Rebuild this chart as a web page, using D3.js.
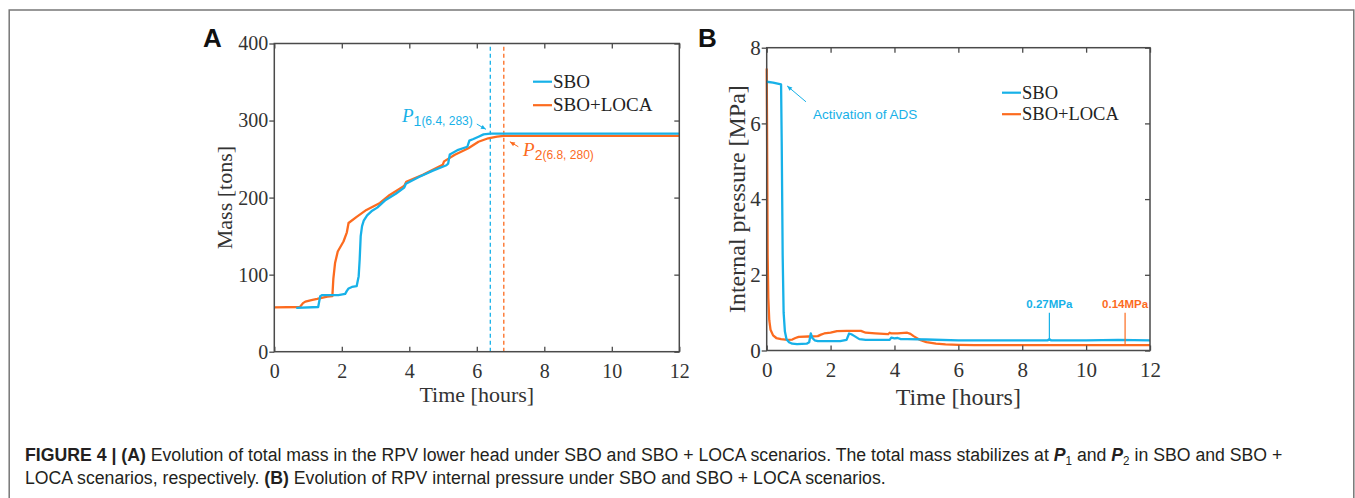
<!DOCTYPE html>
<html>
<head>
<meta charset="utf-8">
<script src="https://cdn.jsdelivr.net/npm/d3@7"></script>
<style>
  html, body { margin: 0; padding: 0; background: #fff; }
  svg { display: block; }
</style>
</head>
<body>
<svg id="fig" width="1355" height="498"></svg>
<script>
// ---------------- data ----------------
// (A) total mass in the RPV lower head [tons] vs time [hours]
const sboMassTime  = [0.65, 1.3, 1.33, 1.36, 1.42, 1.9, 2.1, 2.15, 2.2, 2.3, 2.44, 2.5, 2.53, 2.56, 2.6, 2.65, 2.75, 2.9, 3.05, 3.3, 3.6, 3.85, 3.9, 4.3, 4.7, 5.1, 5.15, 5.2, 5.45, 5.72, 5.78, 5.9, 6.05, 6.2, 6.4, 12];
const sboMass      = [57, 58, 65, 72, 73.5, 73.5, 75, 79, 82, 84, 85, 98, 120, 150, 163, 170, 177, 183, 187, 197, 205, 213, 218, 227, 235, 242, 244, 256, 262, 266, 274, 276, 279, 282, 283, 283];
const locaMassTime = [0, 0.76, 0.85, 0.92, 1.1, 1.27, 1.57, 1.72, 1.75, 1.8, 1.88, 2.05, 2.15, 2.2, 2.44, 2.73, 3.13, 3.42, 3.81, 3.86, 3.91, 4.4, 4.99, 5.03, 5.35, 5.75, 6.05, 6.34, 6.6, 6.8, 12];
const locaMass     = [57.5, 58, 63, 65, 67, 68.5, 71.5, 72, 95, 115, 130, 143, 155, 167, 175, 184, 193, 203.5, 214, 216, 220.5, 229.5, 242.5, 247, 255.5, 264, 272.5, 277, 279, 280, 280];

// (B) RPV internal pressure [MPa] vs time [hours]
const sboPressTime  = [0, 0.2, 0.45, 0.47, 0.5, 0.53, 0.57, 0.62, 0.7, 0.8, 0.95, 1.25, 1.33, 1.38, 1.43, 1.5, 1.6, 2.3, 2.5, 2.58, 2.65, 2.75, 2.9, 3.1, 3.85, 3.9, 4.0, 4.1, 4.2, 4.4, 5, 6, 8, 8.8, 8.85, 8.9, 10, 11, 12];
const sboPress      = [7.1, 7.08, 7.03, 5.5, 2.5, 1.0, 0.5, 0.3, 0.22, 0.18, 0.17, 0.18, 0.22, 0.45, 0.33, 0.27, 0.25, 0.25, 0.28, 0.45, 0.43, 0.38, 0.30, 0.28, 0.28, 0.34, 0.32, 0.33, 0.30, 0.30, 0.29, 0.27, 0.27, 0.27, 0.30, 0.27, 0.27, 0.28, 0.27];
const locaPressTime = [0, 0.01, 0.03, 0.05, 0.08, 0.12, 0.2, 0.3, 0.45, 0.65, 0.8, 0.9, 1.0, 1.3, 1.6, 1.7, 1.8, 2.0, 2.2, 2.5, 2.95, 3.1, 3.4, 3.8, 3.85, 3.9, 4.1, 4.4, 4.5, 4.6, 4.8, 5.0, 5.3, 5.6, 6.0, 6.5, 8, 10, 12];
const locaPress     = [7.45, 6.0, 2.5, 1.4, 0.8, 0.55, 0.4, 0.33, 0.3, 0.28, 0.29, 0.33, 0.36, 0.37, 0.38, 0.42, 0.45, 0.47, 0.51, 0.52, 0.52, 0.47, 0.45, 0.43, 0.47, 0.45, 0.45, 0.47, 0.44, 0.38, 0.28, 0.22, 0.18, 0.16, 0.15, 0.14, 0.14, 0.14, 0.14];

// axes ticks and labels
const timeTicks  = [0, 2, 4, 6, 8, 10, 12];
const massTicks  = [0, 100, 200, 300, 400];
const pressTicks = [0, 2, 4, 6, 8];
const seriesNames = ["SBO", "SBO+LOCA"];

// annotated points
const stableTimes  = [6.4, 6.8];      // P1, P2 time [hours]
const stableMasses = [283, 280];      // P1, P2 mass [tons]
const finalPressTimes = [8.85, 11.22];
const finalPressures  = [0.27, 0.14]; // [MPa]

// ---------------- styles ----------------
const C_SBO  = "#17b1e8";
const C_LOCA = "#fc6b1f";
const SERIF = "'Liberation Serif', 'Times New Roman', serif";
const SANS  = "'Liberation Sans', Arial, sans-serif";
const AXIS_C = "#4a4a4a";
const TEXT_C = "#333";

const svg = d3.select("#fig");

// figure frame
svg.append("path")
  .attr("d", "M9.2,498V10H1353.8V498")
  .attr("fill", "none").attr("stroke", "#777").attr("stroke-width", 1.5);

// ---------------- helpers ----------------
function drawFrameAxes(g, x, y, xTicks, yTicks, fs) {
  const [x0, x1] = x.range();
  const [y0, y1] = y.range();
  // bottom (labelled, inward ticks)
  const bx = g.append("g").attr("transform", `translate(0,${y0})`)
    .call(d3.axisBottom(x).tickValues(xTicks).tickSizeInner(-5).tickSizeOuter(0).tickPadding(12).tickFormat(d3.format("d")));
  // top (inward ticks)
  const tx = g.append("g").attr("transform", `translate(0,${y1})`)
    .call(d3.axisTop(x).tickValues(xTicks).tickSizeInner(-5).tickSizeOuter(0).tickFormat(""));
  // left (labelled)
  const ly = g.append("g").attr("transform", `translate(${x0},0)`)
    .call(d3.axisLeft(y).tickValues(yTicks).tickSizeInner(5).tickSizeOuter(0).tickPadding(1).tickFormat(d3.format("d")));
  // right (inward ticks)
  const ry = g.append("g").attr("transform", `translate(${x1},0)`)
    .call(d3.axisRight(y).tickValues(yTicks).tickSizeInner(-5).tickSizeOuter(0).tickFormat(""));
  [bx, tx, ly, ry].forEach(a => {
    a.select(".domain").remove();
    a.selectAll(".tick line").attr("stroke", AXIS_C).attr("stroke-width", 1.3);
    a.selectAll(".tick text").attr("fill", TEXT_C);
    a.attr("font-family", SERIF).attr("font-size", fs);
  });
  g.append("rect")
    .attr("x", x0).attr("y", y1)
    .attr("width", x1 - x0).attr("height", y0 - y1)
    .attr("fill", "none").attr("stroke", AXIS_C).attr("stroke-width", 1.5);
}

function arrow(g, xA, yA, xB, yB, color) {
  // line from A to B with a small filled head at B
  g.append("line").attr("x1", xA).attr("y1", yA).attr("x2", xB).attr("y2", yB)
    .attr("stroke", color).attr("stroke-width", 1);
  const ang = Math.atan2(yB - yA, xB - xA);
  const L = 5, W = 2.2;
  const p1 = [xB - L * Math.cos(ang) + W * Math.sin(ang), yB - L * Math.sin(ang) - W * Math.cos(ang)];
  const p2 = [xB - L * Math.cos(ang) - W * Math.sin(ang), yB - L * Math.sin(ang) + W * Math.cos(ang)];
  g.append("path").attr("d", `M${xB},${yB}L${p1[0]},${p1[1]}L${p2[0]},${p2[1]}Z`).attr("fill", color);
}

function legend(g, x, y, gap, fs) {
  [C_SBO, C_LOCA].forEach((c, i) => {
    const yy = y + i * gap;
    g.append("line").attr("x1", x).attr("x2", x + 19).attr("y1", yy).attr("y2", yy)
      .attr("stroke", c).attr("stroke-width", 2.2);
    g.append("text").attr("x", x + 20).attr("y", yy).attr("dy", "0.33em")
      .attr("font-family", SERIF).attr("font-size", fs).attr("fill", "#222")
      .text(seriesNames[i]);
  });
}

// ---------------- panel A ----------------
const gA = svg.append("g");
const xA = d3.scaleLinear().domain([0, 12]).range([274.3, 679.3]);
const yA = d3.scaleLinear().domain([0, 400]).range([351.7, 43.5]);

const lineA = d3.line().x(d => xA(d[0])).y(d => yA(d[1]));

// stabilisation markers (dashed verticals)
[C_SBO, C_LOCA].forEach((c, i) => {
  gA.append("line")
    .attr("x1", xA(stableTimes[i])).attr("x2", xA(stableTimes[i]))
    .attr("y1", yA(0)).attr("y2", yA(400))
    .attr("stroke", c).attr("stroke-width", 1.3).attr("stroke-dasharray", "4,3");
});

gA.append("path").datum(locaMassTime.map((t, i) => [t, locaMass[i]]))
  .attr("d", lineA).attr("fill", "none").attr("stroke", C_LOCA).attr("stroke-width", 2.3).attr("stroke-linejoin", "round");
gA.append("path").datum(sboMassTime.map((t, i) => [t, sboMass[i]]))
  .attr("d", lineA).attr("fill", "none").attr("stroke", C_SBO).attr("stroke-width", 2.3).attr("stroke-linejoin", "round");

drawFrameAxes(gA, xA, yA, timeTicks, massTicks, 20);

gA.append("text").attr("x", xA(6)).attr("y", 402).attr("text-anchor", "middle")
  .attr("font-family", SERIF).attr("font-size", 22).attr("fill", TEXT_C).text("Time [hours]");
gA.append("text").attr("transform", `translate(232,${yA(200)}) rotate(-90)`).attr("text-anchor", "middle")
  .attr("font-family", SERIF).attr("font-size", 22).attr("fill", TEXT_C).text("Mass [tons]");
gA.append("text").attr("x", 203).attr("y", 47).attr("font-family", SANS).attr("font-weight", "bold")
  .attr("font-size", 26).attr("fill", "#111").text("A");

legend(gA, 533, 81.7, 23.5, 19);

// P1 / P2 labels
function pLabel(g, x, y, anchor, idx, color) {
  const t = g.append("text").attr("x", x).attr("y", y).attr("text-anchor", anchor).attr("fill", color);
  t.append("tspan").attr("font-family", SERIF).attr("font-style", "italic").attr("font-size", 19).text("P");
  t.append("tspan").attr("font-family", SANS).attr("font-size", 14).attr("dy", 4).text(String(idx + 1));
  t.append("tspan").attr("font-family", SANS).attr("font-size", 12).attr("dy", -1)
    .text(`(${stableTimes[idx]}, ${stableMasses[idx]})`);
}
pLabel(gA, xA(5.88), yA(298), "end", 0, C_SBO);
arrow(gA, xA(6.0), yA(295.5), xA(6.27), yA(288.6), C_SBO);
pLabel(gA, xA(7.37), yA(254), "start", 1, C_LOCA);
arrow(gA, xA(7.23), yA(266), xA(6.98), yA(272.5), C_LOCA);

// ---------------- panel B ----------------
const gB = svg.append("g");
const xB = d3.scaleLinear().domain([0, 12]).range([766.7, 1150]);
const yB = d3.scaleLinear().domain([0, 8]).range([350.5, 47.7]);
const lineB = d3.line().x(d => xB(d[0])).y(d => yB(d[1]));

gB.append("path").datum(locaPressTime.map((t, i) => [t, locaPress[i]]))
  .attr("d", lineB).attr("fill", "none").attr("stroke", C_LOCA).attr("stroke-width", 2.3).attr("stroke-linejoin", "round");
gB.append("path").datum(sboPressTime.map((t, i) => [t, sboPress[i]]))
  .attr("d", lineB).attr("fill", "none").attr("stroke", C_SBO).attr("stroke-width", 2.3).attr("stroke-linejoin", "round");

drawFrameAxes(gB, xB, yB, timeTicks, pressTicks, 21);

gB.append("text").attr("x", xB(6)).attr("y", 405).attr("text-anchor", "middle")
  .attr("font-family", SERIF).attr("font-size", 24).attr("fill", TEXT_C).text("Time [hours]");
gB.append("text").attr("transform", `translate(745,${yB(4)}) rotate(-90)`).attr("text-anchor", "middle")
  .attr("font-family", SERIF).attr("font-size", 24).attr("fill", TEXT_C).text("Internal pressure [MPa]");
gB.append("text").attr("x", 698).attr("y", 47).attr("font-family", SANS).attr("font-weight", "bold")
  .attr("font-size", 26).attr("fill", "#111").text("B");

legend(gB, 1002, 92.7, 21.5, 18.5);

// ADS activation note
gB.append("text").attr("x", xB(1.45)).attr("y", yB(6.11))
  .attr("font-family", SANS).attr("font-size", 13.5).attr("fill", C_SBO).text("Activation of ADS");
arrow(gB, xB(1.23), yB(6.57), xB(0.64), yB(6.99), C_SBO);

// final pressure call-outs
[C_SBO, C_LOCA].forEach((c, i) => {
  const t = finalPressTimes[i], p = finalPressures[i];
  gB.append("line").attr("x1", xB(t)).attr("x2", xB(t)).attr("y1", yB(p)).attr("y2", yB(1.0))
    .attr("stroke", c).attr("stroke-width", 1.2);
  gB.append("text").attr("x", xB(t)).attr("y", yB(1.12)).attr("text-anchor", "middle")
    .attr("font-family", SANS).attr("font-size", 11.5).attr("font-weight", 600).attr("fill", c)
    .text(`${p}MPa`);
});

// ---------------- caption ----------------
const captionLines = [
  [ { t: "FIGURE 4 | (A)", b: true },
    { t: " Evolution of total mass in the RPV lower head under SBO and SBO + LOCA scenarios. The total mass stabilizes at " },
    { t: "P", b: true, i: true }, { t: "1", sub: true }, { t: " and " },
    { t: "P", b: true, i: true }, { t: "2", sub: true }, { t: " in SBO and SBO +" } ],
  [ { t: "LOCA scenarios, respectively. " }, { t: "(B)", b: true },
    { t: " Evolution of RPV internal pressure under SBO and SBO + LOCA scenarios." } ]
];
const capY = [461, 484];
const capNodes = captionLines.map((runs, li) => {
  const txt = svg.append("text").attr("font-family", SANS).attr("font-size", 19).attr("fill", "#231f20");
  let shift = 0;
  runs.forEach(r => {
    const ts = txt.append("tspan").text(r.t);
    if (r.b) ts.attr("font-weight", "bold");
    if (r.i) ts.attr("font-style", "italic");
    if (r.sub) { ts.attr("font-size", 12.5).attr("dy", 4); shift = 4; }
    else if (shift) { ts.attr("dy", -shift); shift = 0; }
  });
  return { txt, y: capY[li] };
});
// caption set in a condensed style: fit the first line to its measure
const natural = capNodes[0].txt.node().getComputedTextLength();
const k = 1258 / natural;
capNodes.forEach(c => c.txt.attr("transform", `translate(25,${c.y}) scale(${k},1)`));
</script>
</body>
</html>
